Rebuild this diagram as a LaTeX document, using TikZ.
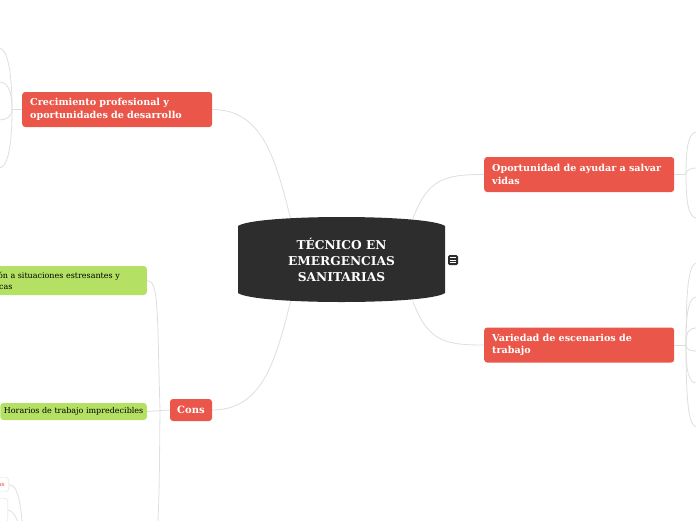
\documentclass[tikz,border=0pt]{standalone}
\usepackage{fontspec}
\setmainfont{DejaVu Serif}
\usetikzlibrary{positioning}
\pgfdeclarelayer{background}
\pgfsetlayers{background,main}
\definecolor{rootgray}{RGB}{45,45,45}
\definecolor{topicred}{RGB}{234,86,73}
\definecolor{subgreen}{RGB}{180,225,100}
\definecolor{linegray}{RGB}{222,222,222}
\tikzset{
  roottext/.style={text=white, font=\bfseries\fontsize{12.2}{16}\selectfont, align=center, minimum width=207pt, minimum height=82pt, inner sep=0pt},
  menuicon/.style={fill=rootgray, rounded corners=1.5pt, minimum size=10pt, inner sep=0pt},
  topic/.style={fill=topicred, text=white, font=\bfseries\fontsize{9.6}{12.5}\selectfont, rounded corners=3pt, inner xsep=8pt, inner ysep=0pt, align=left, text width=174pt, minimum height=35pt},
  topicsmall/.style={fill=topicred, text=white, font=\bfseries\fontsize{10}{11}\selectfont, rounded corners=3pt, inner sep=0pt, minimum width=42pt, minimum height=22pt},
  sub/.style={fill=subgreen, font=\fontsize{8}{11}\selectfont, rounded corners=3pt, inner xsep=3.5pt, inner ysep=0pt, align=left},
  leaf/.style={fill=white, draw=linegray, rounded corners=3pt, text=topicred!75, font=\bfseries\fontsize{6}{7}\selectfont, inner xsep=4pt, inner ysep=0pt, minimum height=14pt},
  conn/.style={draw=linegray, line width=0.8pt}
}
\begin{document}
\begin{tikzpicture}[x=1pt,y=1pt]
\useasboundingbox (0,0) rectangle (696,-520);

\fill[rootgray] (238,-226) .. controls (255,-214) and (428,-214) .. (445,-226) -- (445,-293) .. controls (428,-305) and (255,-305) .. (238,-293) -- cycle;
\node[roottext] (root) at (341.5,-260) {TÉCNICO EN\\EMERGENCIAS\\SANITARIAS};

\node[menuicon] (menu) at (453,-260) {};
\draw[white,line width=0.9pt] ([xshift=-3pt,yshift=2.5pt]menu.center) -- ([xshift=3pt,yshift=2.5pt]menu.center);
\draw[white,line width=0.9pt] ([xshift=-3pt]menu.center) -- ([xshift=3pt]menu.center);
\draw[white,line width=0.9pt] ([xshift=-3pt,yshift=-2.5pt]menu.center) -- ([xshift=3pt,yshift=-2.5pt]menu.center);

\node[topic,anchor=west] (crec) at (22,-109.5) {Crecimiento profesional y\\oportunidades de desarrollo};
\node[topic,anchor=west] (opp) at (484,-174.5) {Oportunidad de ayudar a salvar\\vidas};
\node[topic,anchor=west] (var) at (484,-345) {Variedad de escenarios de\\trabajo};
\node[topicsmall] (cons) at (191,-410) {Cons};

\node[sub,anchor=east,minimum height=29pt,inner xsep=5pt] (stress) at (147,-280.5) {Exposición a situaciones estresantes y\rule{22pt}{0pt}\\traumáticas};
\node[sub,anchor=east,minimum height=17pt] (hor) at (147,-411.5) {Horarios de trabajo impredecibles};

\node[leaf,anchor=east] (leafa) at (9,-484.5) {as};
\node[leaf,anchor=north east,minimum width=24pt,minimum height=24pt] (leafb) at (8,-498) {};

\coordinate (crecj) at (12,-109.5);
\coordinate (crecA) at (-1,-48);
\coordinate (crecB) at (-1,-82);
\coordinate (crecC) at (-1,-120);
\coordinate (crecD) at (-1,-168);

\coordinate (oppj) at (686,-174.5);
\coordinate (oppA) at (697,-132);
\coordinate (oppB) at (697,-168);
\coordinate (oppC) at (697,-218);

\coordinate (varj) at (686,-345);
\coordinate (varA) at (697,-263);
\coordinate (varB) at (697,-297);
\coordinate (varC) at (697,-328);
\coordinate (varD) at (697,-351);
\coordinate (varE) at (697,-383);
\coordinate (varF) at (697,-427);

\coordinate (consj) at (160,-410);
\coordinate (consC) at (145,-570);
\coordinate (leafj) at (23,-560);

\begin{pgfonlayer}{background}
\draw[conn] (crec.east) .. controls +(50,0) and +(-15,60) .. (root.141);
\draw[conn] (root.30) .. controls +(15,40) and +(-40,0) .. (opp.west);
\draw[conn] (root.-30) .. controls +(15,-40) and +(-40,0) .. (var.west);
\draw[conn] (root.-141) .. controls +(-15,-60) and +(50,0) .. (cons.east);

\draw[conn] (crec.west) -- (crecj);
\draw[conn] (crecj) .. controls +(0,40) and +(8,0) .. (crecA);
\draw[conn] (crecj) .. controls +(0,20) and +(8,0) .. (crecB);
\draw[conn] (crecj) .. controls +(0,-8) and +(6,0) .. (crecC);
\draw[conn] (crecj) .. controls +(0,-40) and +(8,0) .. (crecD);

\draw[conn] (opp.east) -- (oppj);
\draw[conn] (oppj) .. controls +(0,30) and +(-8,0) .. (oppA);
\draw[conn] (oppj) .. controls +(0,5) and +(-6,0) .. (oppB);
\draw[conn] (oppj) .. controls +(0,-30) and +(-8,0) .. (oppC);

\draw[conn] (var.east) -- (varj);
\draw[conn] (varj) .. controls +(0,60) and +(-8,0) .. (varA);
\draw[conn] (varj) .. controls +(0,35) and +(-8,0) .. (varB);
\draw[conn] (varj) .. controls +(0,14) and +(-8,0) .. (varC);
\draw[conn] (varj) .. controls +(0,-5) and +(-6,0) .. (varD);
\draw[conn] (varj) .. controls +(0,-28) and +(-8,0) .. (varE);
\draw[conn] (varj) .. controls +(0,-60) and +(-8,0) .. (varF);

\draw[conn] (cons.west) -- (hor.east);
\draw[conn] (consj) .. controls +(-3,100) and +(12,0) .. (stress.east);
\draw[conn] (consj) .. controls +(-1,-90) and +(15,0) .. (consC);

\draw[conn] (leafa.east) .. controls +(12,0) and +(0,40) .. (leafj);
\draw[conn] (leafb.east) .. controls +(8,0) and +(0,30) .. (leafj);
\end{pgfonlayer}
\end{tikzpicture}
\end{document}
